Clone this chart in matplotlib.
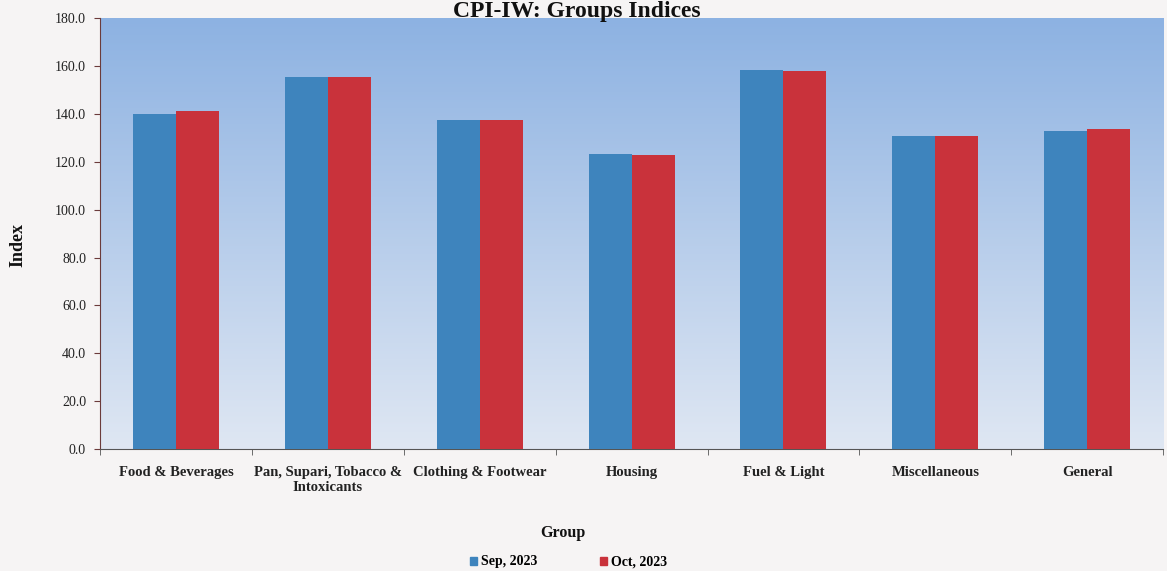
import matplotlib
matplotlib.use("Agg")
import matplotlib.pyplot as plt
import numpy as np
from matplotlib.patches import Patch
from matplotlib.colors import LinearSegmentedColormap

categories = ["Food & Beverages", "Pan, Supari, Tobacco &\nIntoxicants", "Clothing & Footwear",
              "Housing", "Fuel & Light", "Miscellaneous", "General"]
sep_2023 = [140.1, 155.6, 137.4, 123.2, 158.3, 130.7, 133.0]
oct_2023 = [141.5, 155.4, 137.5, 122.9, 158.0, 130.8, 133.6]
series_labels = ["Sep, 2023", "Oct, 2023"]
yticks = [0, 20, 40, 60, 80, 100, 120, 140, 160, 180]

plt.rcParams['font.family'] = ['Liberation Serif', 'DejaVu Serif']

fig = plt.figure(figsize=(11.67, 5.71), dpi=100, facecolor='#f6f4f4')
ax = fig.add_axes([0.0857, 0.2137, 0.911, 0.754])

x = np.arange(len(categories))
w = 0.283
blue = '#3e84bd'
red = '#c9323b'
ax.bar(x - w/2, sep_2023, width=w, color=blue, zorder=3, label=series_labels[0])
ax.bar(x + w/2, oct_2023, width=w, color=red, zorder=3, label=series_labels[1])

ax.set_xlim(-0.5, len(categories) - 0.5)
ax.set_ylim(0, 180)

# gradient background
grad = np.linspace(0, 1, 256).reshape(-1, 1)
cmap = LinearSegmentedColormap.from_list('bg', ['#dfe7f3', '#8db2e2'])
ax.imshow(grad, aspect='auto', cmap=cmap, origin='lower',
          extent=(-0.5, len(categories) - 0.5, 0, 180), zorder=0)
ax.set_facecolor('#f6f4f4')

ax.set_yticks(yticks)
ax.set_yticklabels([f"{v:.1f}" for v in yticks], fontsize=10, color='#222222')
ax.set_xticks(x)
ax.set_xticklabels(categories, fontsize=10.5, fontweight='bold', color='#222222')
ax.set_xticks(np.arange(-0.5, len(categories), 1.0), minor=True)
ax.tick_params(axis='x', which='major', length=0, pad=12)
ax.tick_params(axis='x', which='minor', length=4, direction='out', color='#555555')
ax.tick_params(axis='y', length=4, direction='out', color='#6b3b3b', pad=6)

for s in ['top', 'right']:
    ax.spines[s].set_visible(False)
ax.spines['left'].set_color('#6b3b3b')
ax.spines['bottom'].set_color('#555555')

fig.text(18/1167, 1 - 245/571, "Index", rotation=90, ha='center', va='center',
         fontsize=13, fontweight='bold', color='#111111')
fig.text(563/1167, 1 - 533/571, "Group", ha='center', va='center',
         fontsize=11.5, fontweight='bold', color='#111111')

fig.text(0.494, 0.999, "CPI-IW: Groups Indices", ha='center', va='top',
         fontsize=17, fontweight='bold', color='#111111', zorder=10)

handles = [Patch(color=blue), Patch(color=red)]
fig.legend(handles, series_labels, loc='center', bbox_to_anchor=(0.487, 1 - 562/571),
           ncol=2, frameon=False, handlelength=0.5, handleheight=0.5, handletextpad=0.3,
           columnspacing=4.5, prop={'size': 10, 'weight': 'bold'})

fig.savefig("out.png", dpi=100, facecolor=fig.get_facecolor())
